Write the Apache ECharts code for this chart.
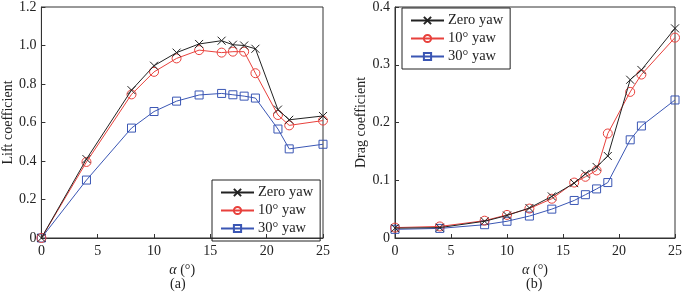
<!DOCTYPE html>
<html><head><meta charset="utf-8">
<script src="https://cdn.jsdelivr.net/npm/echarts@6/dist/echarts.min.js"></script>
<style>html,body{margin:0;padding:0;background:#fff}#c{width:685px;height:292px}</style>
</head><body><div id="c"></div>
<script>
const alpha = [0, 4, 8, 10, 12, 14, 16, 17, 18, 19, 21, 22, 25];
const liftZero = [0, 0.41, 0.768, 0.895, 0.963, 1.008, 1.025, 1.004, 1.0, 0.983, 0.667, 0.614, 0.634];
const lift10 = [0, 0.395, 0.746, 0.863, 0.933, 0.976, 0.963, 0.968, 0.968, 0.856, 0.639, 0.585, 0.61];
const lift30 = [0, 0.301, 0.571, 0.657, 0.711, 0.743, 0.751, 0.744, 0.737, 0.727, 0.566, 0.463, 0.487];
const dragZero = [0.017, 0.018, 0.029, 0.039, 0.052, 0.072, 0.095, 0.111, 0.123, 0.142, 0.274, 0.291, 0.363];
const drag10 = [0.018, 0.020, 0.030, 0.040, 0.051, 0.068, 0.096, 0.106, 0.117, 0.181, 0.253, 0.283, 0.347];
const drag30 = [0.015, 0.0166, 0.023, 0.029, 0.038, 0.050, 0.065, 0.075, 0.085, 0.096, 0.170, 0.194, 0.239];
const seriesNames = ['Zero yaw', '10° yaw', '30° yaw'];
const xTicks = [0, 5, 10, 15, 20, 25];

const FONT = 'Liberation Serif';
const colors = ['#222222', '#e8413c', '#3a56b4'];
const symbols = ['path://M0,0L10,10M10,0L0,10', 'circle', 'rect'];
const sizes = [8, 9, 8];

function zip(xs, ys) { return xs.map((x, i) => [x, ys[i]]); }
function mk(name, idx, data, axisIdx) {
  return {
    name: name, type: 'line', xAxisIndex: axisIdx, yAxisIndex: axisIdx,
    data: zip(alpha, data), symbol: symbols[idx], symbolSize: sizes[idx],
    lineStyle: { color: colors[idx], width: 1 },
    itemStyle: { color: 'rgba(0,0,0,0)', borderColor: colors[idx], borderWidth: 1 },
    emphasis: { disabled: true }, animation: false, z: 3 - idx
  };
}
const axisCommon = {
  axisLine: { lineStyle: { color: '#333', width: 1 } },
  axisTick: { inside: true, length: 4, lineStyle: { color: '#333' } },
  axisLabel: { color: '#222', fontFamily: FONT, fontSize: 14 },
  splitLine: { show: false }
};
function fmt(v) { return v === 0 ? '0' : v.toFixed(1); }
function xAx(i) {
  return Object.assign({}, axisCommon, {
    type: 'value', gridIndex: i, min: 0, max: 25, interval: 5,
    axisLabel: Object.assign({}, axisCommon.axisLabel, { margin: 6 }),
    name: '{i|α} (°)', nameLocation: 'middle', nameGap: 17,
    nameTextStyle: { color: '#222', fontFamily: FONT, fontSize: 14,
      rich: { i: { fontStyle: 'italic', fontFamily: FONT, fontSize: 14, color: '#222' } } }
  });
}
function yAx(i, max, interval, name, gap) {
  return Object.assign({}, axisCommon, {
    type: 'value', gridIndex: i, min: 0, max: max, interval: interval,
    axisLabel: Object.assign({}, axisCommon.axisLabel, { formatter: fmt, margin: 5 }),
    name: name, nameLocation: 'middle', nameGap: gap,
    nameTextStyle: { color: '#222', fontFamily: FONT, fontSize: 14 }
  });
}
const legendCommon = {
  orient: 'vertical', data: seriesNames, itemWidth: 33, itemHeight: 9, itemGap: 3,
  borderColor: '#222', borderWidth: 1, borderRadius: 0, padding: [5, 7, 5, 8],
  textStyle: { fontFamily: FONT, fontSize: 14.5, color: '#222', padding: [0, 0, 0, -1] },
  selectedMode: false
};
const chart = echarts.init(document.getElementById('c'), null, { renderer: 'canvas' });
chart.setOption({
  animation: false,
  grid: [
    { left: 41, top: 6, width: 282, height: 232, show: true, borderColor: '#333', borderWidth: 1 },
    { left: 395, top: 6, width: 283, height: 232, show: true, borderColor: '#333', borderWidth: 1 }
  ],
  xAxis: [xAx(0), xAx(1)],
  yAxis: [yAx(0, 1.2, 0.2, 'Lift coefficient', 22), yAx(1, 0.4, 0.1, 'Drag coefficient', 27)],
  legend: [
    Object.assign({}, legendCommon, { left: 212, top: 180 }),
    Object.assign({}, legendCommon, { left: 402, top: 8 })
  ],
  series: [
    mk(seriesNames[0], 0, liftZero, 0), mk(seriesNames[1], 1, lift10, 0), mk(seriesNames[2], 2, lift30, 0),
    mk(seriesNames[0], 0, dragZero, 1), mk(seriesNames[1], 1, drag10, 1), mk(seriesNames[2], 2, drag30, 1)
  ],
  graphic: [
    { type: 'text', left: 170, top: 277, style: { text: '(a)', font: '14px "Liberation Serif"', fill: '#222' } },
    { type: 'text', left: 526, top: 277, style: { text: '(b)', font: '14px "Liberation Serif"', fill: '#222' } }
  ]
});
</script></body></html>
